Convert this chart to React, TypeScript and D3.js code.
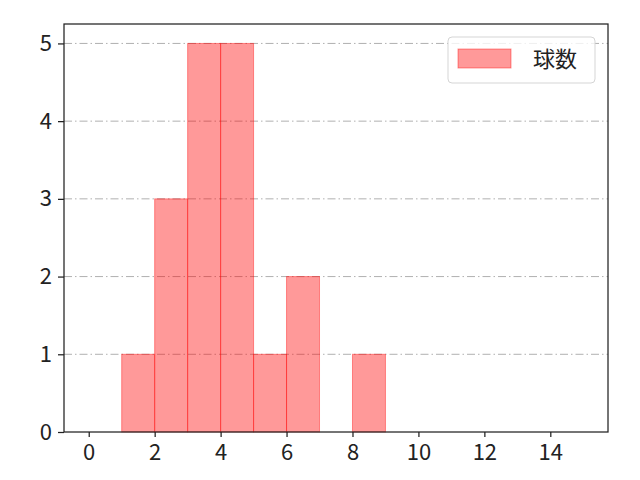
import { useEffect, useRef } from "react";
import * as d3 from "d3";

// histogram bins (left edge) and counts
const binStarts = [1, 2, 3, 4, 5, 6, 7, 8];
const counts = [1, 3, 5, 5, 1, 2, 0, 1];
const xTicks = [0, 2, 4, 6, 8, 10, 12, 14];
const yTicks = [0, 1, 2, 3, 4, 5];
const seriesName = "球数";

const W = 640;
const H = 480;
const margin = { top: 24, right: 32, bottom: 48, left: 64 };
const FONT = "'Noto Sans CJK JP', 'Noto Sans', sans-serif";
const FS = "22px";

const App = () => {
  const svgRef = useRef<SVGSVGElement | null>(null);

  useEffect(() => {
    if (!svgRef.current) return;
    const svg = d3.select(svgRef.current);
    svg.selectAll("*").remove();

    const x = d3
      .scaleLinear()
      .domain([-0.75, 15.75])
      .range([margin.left, W - margin.right]);
    const y = d3
      .scaleLinear()
      .domain([0, 5.25])
      .range([H - margin.bottom, margin.top]);

    // grid
    svg
      .append("g")
      .selectAll("line")
      .data(yTicks.filter((d) => d > 0))
      .join("line")
      .attr("x1", margin.left)
      .attr("x2", W - margin.right)
      .attr("y1", (d) => y(d))
      .attr("y2", (d) => y(d))
      .attr("stroke", "#b0b0b0")
      .attr("stroke-width", 1)
      .attr("stroke-dasharray", "8,3,1.5,3");

    // bars
    svg
      .append("g")
      .selectAll("rect")
      .data(binStarts.map((b, i) => ({ b, c: counts[i] })).filter((d) => d.c > 0))
      .join("rect")
      .attr("x", (d) => x(d.b))
      .attr("width", (d) => x(d.b + 1) - x(d.b))
      .attr("y", (d) => y(d.c))
      .attr("height", (d) => y(0) - y(d.c))
      .attr("fill", "red")
      .attr("fill-opacity", 0.4)
      .attr("stroke", "red")
      .attr("stroke-opacity", 0.4)
      .attr("stroke-width", 1);

    // axes
    const xAxis = d3
      .axisBottom(x)
      .tickValues(xTicks)
      .tickSize(5)
      .tickPadding(7)
      .tickFormat(d3.format("d"));
    const yAxis = d3
      .axisLeft(y)
      .tickValues(yTicks)
      .tickSize(6)
      .tickPadding(6)
      .tickFormat(d3.format("d"));

    const gx = svg
      .append("g")
      .attr("transform", `translate(0,${H - margin.bottom})`)
      .call(xAxis);
    const gy = svg
      .append("g")
      .attr("transform", `translate(${margin.left},0)`)
      .call(yAxis);
    [gx, gy].forEach((g) => {
      g.select(".domain").remove();
      g.selectAll("line").attr("stroke", "#222").attr("stroke-width", 1.25);
      g.selectAll("text")
        .attr("fill", "#222")
        .style("font-family", FONT)
        .style("font-size", FS);
    });

    // frame
    svg
      .append("rect")
      .attr("x", margin.left)
      .attr("y", margin.top)
      .attr("width", W - margin.left - margin.right)
      .attr("height", H - margin.top - margin.bottom)
      .attr("fill", "none")
      .attr("stroke", "#222")
      .attr("stroke-width", 1.25);

    // legend
    const lg = svg.append("g").attr("transform", "translate(448,37)");
    lg.append("rect")
      .attr("width", 147)
      .attr("height", 46)
      .attr("rx", 4)
      .attr("fill", "white")
      .attr("fill-opacity", 0.8)
      .attr("stroke", "#d5d5d5");
    lg.append("rect")
      .attr("x", 10)
      .attr("y", 12)
      .attr("width", 53)
      .attr("height", 19)
      .attr("fill", "red")
      .attr("fill-opacity", 0.4)
      .attr("stroke", "red")
      .attr("stroke-opacity", 0.4);
    lg.append("text")
      .attr("x", 85)
      .attr("y", 30)
      .attr("fill", "#222")
      .style("font-family", FONT)
      .style("font-size", FS)
      .text(seriesName);
  }, []);

  return (
    <svg
      ref={svgRef}
      width={W}
      height={H}
      style={{ position: "absolute", left: 0, top: 0, background: "white" }}
    />
  );
};

export default App;
